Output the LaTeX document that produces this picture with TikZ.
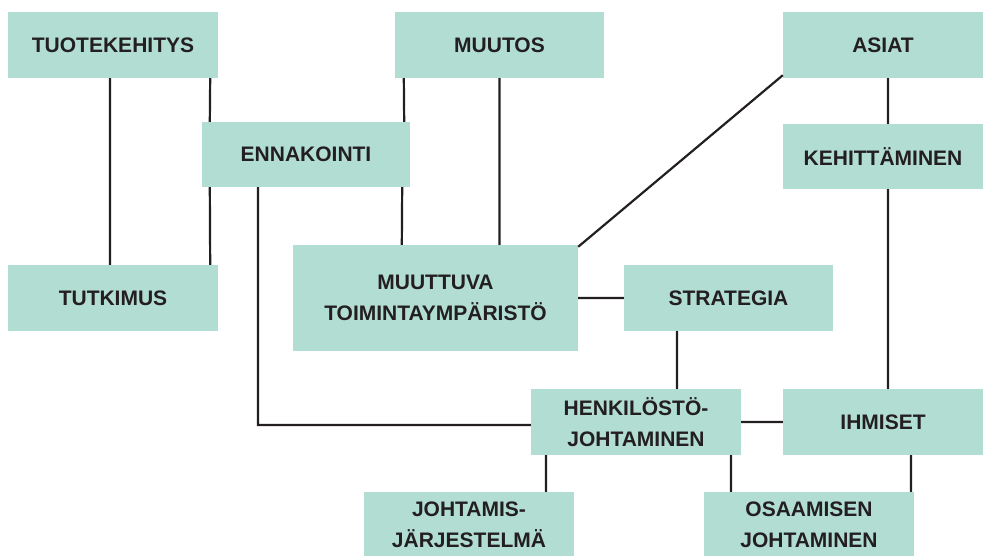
\documentclass[tikz,border=0pt]{standalone}
\usepackage{fontspec}
\setmainfont{Liberation Sans}
\usepackage{xcolor}
\usepackage{tikz}
\definecolor{boxgreen}{HTML}{B2DDD3}
\definecolor{inkdark}{HTML}{231F20}
\tikzset{
x=1pt, y=-1pt, % one unit is one pixel of the layout, y grows downwards
link/.style={line width=2.2pt, draw=inkdark}, % the connectors
topic/.style={fill=boxgreen, draw=none, text=inkdark, align=center,
  font=\fontsize{21}{31}\selectfont\bfseries, inner sep=0pt,
  minimum width=210pt, minimum height=66pt}, % every green box
}

\begin{document}
\begin{tikzpicture}
    \useasboundingbox (0,0) rectangle (984,555);
    \clip (0,0) rectangle (984,555);

    \node[topic] (tuote) at (113,45) {TUOTEKEHITYS};
    \node[topic, minimum width=209pt] (muutos) at (499.5,45) {MUUTOS};
    \node[topic, minimum width=200pt] (asiat) at (883,45) {ASIAT};
    \node[topic, minimum width=208pt, minimum height=65pt] (ennak) at (306,154.5) {ENNAKOINTI};
    \node[topic, minimum width=200pt, minimum height=65pt] (kehit) at (883,156.5) {KEHITTÄMINEN};
    \node[topic] (tutkimus) at (113,298) {TUTKIMUS};
    \node[topic, minimum width=285pt, minimum height=106pt] (muuttuva) at (435.5,298) {MUUTTUVA\\TOIMINTAYMPÄRISTÖ};
    \node[topic, minimum width=209pt] (strategia) at (728.5,298) {STRATEGIA};
    \node[topic] (henk) at (636,422) {HENKILÖSTÖ-\\JOHTAMINEN};
    \node[topic, minimum width=200pt] (ihmiset) at (883,422) {IHMISET};
    \node[topic] (johtamis) at (469,525) {JOHTAMIS-\\JÄRJESTELMÄ};
    \node[topic] (osaamisen) at (809,525) {OSAAMISEN\\JOHTAMINEN};

    \draw[link]
            ([xshift=-3pt]tuote.south) -- ([xshift=-3pt]tutkimus.north)
            ([xshift=-8pt]tuote.south east) -- ([xshift=8pt]ennak.north west)
            ([xshift=8pt]ennak.south west) -- ([xshift=-8pt]tutkimus.north east)
            ([xshift=9pt]muutos.south west) -- ([xshift=-6pt]ennak.north east)
            ([xshift=-8pt]ennak.south east) -- ([xshift=109pt]muuttuva.north west)
            (muutos.south) -- (muutos.south |- muuttuva.north)
            ([yshift=3pt]asiat.south west) -- ([yshift=-2pt]muuttuva.north east)
            ([xshift=5pt]asiat.south) -- ([xshift=5pt]kehit.north)
            ([xshift=5pt]kehit.south) -- ([xshift=5pt]ihmiset.north)
            (muuttuva.east) -- (strategia.west)
            ([xshift=-51.5pt]strategia.south) -- ([xshift=41pt]henk.north)
            ([xshift=-48pt]ennak.south) |- ([yshift=-3pt]henk.west)
            (henk.east) -- (ihmiset.west)
            ([xshift=-90pt]henk.south) -- ([xshift=77pt]johtamis.north)
            ([xshift=95pt]henk.south) -- ([xshift=-78pt]osaamisen.north)
            ([xshift=28pt]ihmiset.south) -- ([xshift=102pt]osaamisen.north);

\end{tikzpicture}
\end{document}
